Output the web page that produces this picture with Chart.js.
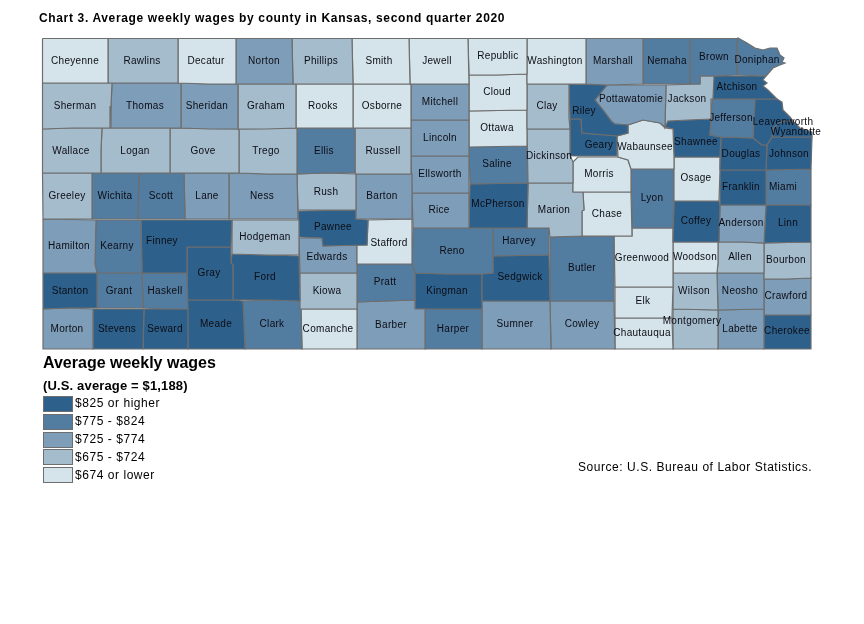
<!DOCTYPE html>
<html>
<head>
<meta charset="utf-8">
<title>Average weekly wages by county in Kansas</title>
<script src="https://cdn.jsdelivr.net/npm/chart.js@4"></script>
<style>
    html, body { margin: 0; padding: 0; background: #fff; }
    #wrap { position: relative; width: 864px; height: 624px; font-family: "Liberation Sans", Arial, sans-serif; color: #000; overflow: hidden; }
    #mapChart { position: absolute; left: 0; top: 0; }
    .txt { position: absolute; white-space: nowrap; line-height: 1; }
    .swatch { position: absolute; left: 43px; width: 30px; height: 16px; box-sizing: border-box; border: 1.5px solid #6e6e6e; }
</style>
</head>
<body>
<div id="wrap">
    <canvas id="mapChart" width="864" height="624"></canvas>
    <div class="txt" style="left:39px;top:12px;font-size:12px;font-weight:bold;letter-spacing:0.65px">Chart 3. Average weekly wages by county in Kansas, second quarter 2020</div>
    <div class="txt" style="left:43px;top:355px;font-size:16px;font-weight:bold">Average weekly wages</div>
    <div class="txt" style="left:43px;top:379px;font-size:13px;font-weight:bold;letter-spacing:0.15px">(U.S. average = $1,188)</div>
    <div class="txt" style="left:578px;top:461px;font-size:12px;letter-spacing:0.55px">Source: U.S. Bureau of Labor Statistics.</div>
    <div id="legendBox"></div>
</div>

<script>
// DATA
const legendLabels = ['$825 or higher', '$775 - $824', '$725 - $774', '$675 - $724', '$674 or lower'];
const classColors = ['#2d618c', '#527ca0', '#7d9db8', '#a5bccd', '#d4e4ea'];

const counties = [
    'Cheyenne', 'Rawlins', 'Decatur', 'Norton', 'Phillips', 'Smith', 'Jewell', 'Republic', 'Washington', 'Marshall', 'Nemaha', 'Brown', 'Doniphan',
    'Sherman', 'Thomas', 'Sheridan', 'Graham', 'Rooks', 'Osborne', 'Mitchell', 'Cloud', 'Clay', 'Riley', 'Pottawatomie', 'Jackson', 'Atchison', 'Jefferson', 'Leavenworth', 'Wyandotte',
    'Wallace', 'Logan', 'Gove', 'Trego', 'Ellis', 'Russell', 'Lincoln', 'Ottawa', 'Dickinson', 'Geary', 'Wabaunsee', 'Shawnee', 'Douglas', 'Johnson',
    'Greeley', 'Wichita', 'Scott', 'Lane', 'Ness', 'Rush', 'Barton', 'Ellsworth', 'Saline', 'Morris', 'Osage', 'Franklin', 'Miami',
    'Hamilton', 'Kearny', 'Finney', 'Hodgeman', 'Pawnee', 'Stafford', 'Rice', 'McPherson', 'Marion', 'Chase', 'Lyon', 'Coffey', 'Anderson', 'Linn',
    'Stanton', 'Grant', 'Haskell', 'Gray', 'Ford', 'Edwards', 'Kiowa', 'Pratt', 'Reno', 'Harvey', 'Sedgwick', 'Butler', 'Greenwood', 'Woodson', 'Allen', 'Bourbon',
    'Morton', 'Stevens', 'Seward', 'Meade', 'Clark', 'Comanche', 'Barber', 'Kingman', 'Harper', 'Sumner', 'Cowley', 'Elk', 'Chautauqua', 'Wilson', 'Neosho', 'Montgomery', 'Labette', 'Crawford', 'Cherokee'
];

// wage class of each county, same order as counties (index into legendLabels)
const wageClass = [
    4, 3, 4, 2, 3, 4, 4, 4, 4, 2, 1, 1, 1,
    3, 2, 2, 3, 4, 4, 2, 4, 3, 0, 2, 3, 0, 1, 0, 0,
    3, 3, 3, 3, 1, 3, 2, 4, 3, 0, 4, 0, 0, 0,
    3, 1, 1, 2, 2, 3, 2, 2, 1, 4, 4, 0, 1,
    2, 1, 0, 3, 0, 4, 2, 0, 3, 4, 1, 0, 2, 0,
    0, 1, 1, 0, 0, 2, 3, 1, 1, 1, 0, 1, 4, 4, 3, 3,
    2, 0, 0, 0, 1, 4, 2, 0, 1, 2, 2, 4, 4, 3, 2, 3, 2, 2, 0
];

// county boundaries, in map units
const countyOutlines = {
    Cheyenne: [[42.5,38.5],[108,38.5],[108,83],[42.5,83]],
    Rawlins: [[108,38.5],[178,38.5],[178,83],[108,83]],
    Decatur: [[178,38.5],[236,38.5],[236,84],[208,84],[178,83]],
    Norton: [[236,38.5],[292,38.5],[293,84],[236,84]],
    Phillips: [[292,38.5],[352,38.5],[353,84],[293,84]],
    Smith: [[352,38.5],[409,38.5],[410,84],[353,84]],
    Jewell: [[409,38.5],[468,38.5],[469,84],[410,84]],
    Republic: [[468,38.5],[527,38.5],[527,74],[497,75],[469,75]],
    Washington: [[527,38.5],[586,38.5],[586,84],[527,84]],
    Marshall: [[586,38.5],[643,38.5],[643,84],[607,85],[586,84]],
    Nemaha: [[643,38.5],[690,38.5],[690,84],[643,84]],
    Brown: [[690,38.5],[737,38.5],[737,75],[714,76],[700,76],[700,84],[690,84]],
    Doniphan: [[737,38.5],[738,38],[747,43],[755,48],[763,50],[770,48],[777,48],[780,55],[784,58],[782,62],[785,63],[780,65],[773,68],[767,75],[766,76],[737,75]],
    Sherman: [[42.5,83],[112,83],[111,106],[110,128],[72,128],[42.5,129]],
    Thomas: [[112,83],[181,83],[181,128],[110,128],[111,106]],
    Sheridan: [[181,83],[208,84],[238,84],[238,129],[209,129],[181,128]],
    Graham: [[238,84],[296,84],[296,128],[267,129],[238,129]],
    Rooks: [[296,84],[353,84],[353,128],[296,128]],
    Osborne: [[353,84],[411,84],[411,128],[353,128]],
    Mitchell: [[411,84],[469,84],[469,120],[411,120]],
    Cloud: [[469,75],[497,75],[527,74],[527,110],[469,111]],
    Clay: [[527,84],[569,84],[569,118],[570,129],[527,129]],
    Riley: [[569,84],[607,85],[595,100],[603,110],[612,122],[615,124],[628,125],[628,133],[617,136],[582,133],[581,119],[570,119]],
    Pottawatomie: [[607,85],[666,85],[665,127],[660,123],[643,120],[628,125],[615,124],[612,122],[603,110],[595,100]],
    Jackson: [[666,85],[700,84],[700,76],[714,76],[713,99],[711,99],[711,119],[688,120],[668,121],[665,127]],
    Atchison: [[714,76],[766,76],[763,80],[767,83],[763,86],[768,90],[773,95],[777,99],[755,99],[712,99],[713,85]],
    Jefferson: [[712,99],[755,99],[753,138],[721,137],[710,135],[711,119]],
    Leavenworth: [[755,99],[777,99],[782,102],[783,110],[790,117],[793,121],[782,121],[773,128],[772,137],[767,145],[762,145],[753,138]],
    Wyandotte: [[782,121],[793,121],[800,128],[812,132],[812,137],[772,137],[773,128]],
    Wallace: [[42.5,129],[72,128],[102,128],[101,150],[101,173],[42.5,173]],
    Logan: [[102,128],[170,128],[170,173],[101,173],[101,150]],
    Gove: [[170,128],[239,129],[239,173],[170,173]],
    Trego: [[239,129],[297,128],[297,174],[268,174],[239,173]],
    Ellis: [[297,128],[355,128],[355,173],[326,173],[297,174]],
    Russell: [[355,128],[411,128],[411,174],[356,174],[355,173]],
    Lincoln: [[411,120],[469,120],[469,156],[411,156]],
    Ottawa: [[469,111],[527,110],[527,146],[469,147]],
    Dickinson: [[527,129],[570,129],[570,155],[573,162],[573,183],[528,183]],
    Geary: [[570,119],[581,119],[582,133],[617,136],[617,156],[573,156],[570,155]],
    Wabaunsee: [[628,125],[643,120],[660,123],[665,128],[673,129],[674,157],[674,169],[631,169],[628,160],[618,157],[617,136],[628,133]],
    Shawnee: [[665,127],[668,121],[688,120],[711,119],[710,135],[721,137],[720,157],[674,157],[673,129]],
    Douglas: [[721,137],[753,138],[762,145],[767,145],[766,170],[720,170]],
    Johnson: [[767,145],[772,137],[812,137],[811,169],[766,170]],
    Greeley: [[42.5,173],[92,173],[92,219],[43,219]],
    Wichita: [[92,173],[139,173],[138,219],[92,219]],
    Scott: [[139,173],[184,173],[185,219],[138,219]],
    Lane: [[184,173],[229,173],[229,219],[185,219]],
    Ness: [[229,173],[268,174],[297,174],[298,219],[229,219]],
    Rush: [[297,174],[326,173],[356,174],[356,210],[298,210]],
    Barton: [[356,174],[412,174],[412,219],[356,219]],
    Ellsworth: [[411,156],[469,156],[469,193],[412,193]],
    Saline: [[469,147],[527,146],[528,183],[470,184]],
    Morris: [[573,162],[578,157],[618,157],[628,160],[631,169],[631,192],[583,192],[573,192],[573,173]],
    Osage: [[674,157],[720,157],[720,170],[719,201],[674,201]],
    Franklin: [[720,170],[766,170],[766,205],[720,205]],
    Miami: [[766,170],[811,169],[811,205],[766,205]],
    Hamilton: [[43,219],[96,220],[95,264],[97,273],[43,273]],
    Kearny: [[96,220],[141,220],[142,273],[97,273],[95,264]],
    Finney: [[141,220],[232,220],[231,247],[187,247],[187,273],[142,273]],
    Hodgeman: [[232,220],[299,220],[299,255],[266,255],[232,254]],
    Pawnee: [[298,211],[356,210],[356,219],[368,220],[367,245],[323,246],[322,238],[299,237]],
    Stafford: [[368,220],[412,219],[412,264],[357,264],[357,245],[367,245]],
    Rice: [[412,193],[469,193],[469,228],[447,228],[413,228]],
    McPherson: [[470,184],[528,183],[527,228],[469,228]],
    Marion: [[528,183],[573,183],[573,192],[583,192],[584,210],[582,211],[582,236],[550,237],[549,228],[527,228]],
    Chase: [[583,192],[631,192],[632,236],[582,236],[582,211],[584,210]],
    Lyon: [[631,169],[674,169],[674,202],[673,228],[632,228]],
    Coffey: [[674,201],[719,201],[720,205],[719,242],[673,242]],
    Anderson: [[720,205],[766,205],[764,243],[742,242],[719,242]],
    Linn: [[766,205],[811,205],[811,242],[764,243]],
    Stanton: [[43,273],[97,273],[97,308],[68,308],[43,309]],
    Grant: [[97,273],[142,273],[143,308],[97,308]],
    Haskell: [[142,273],[187,273],[188,309],[167,309],[143,308]],
    Gray: [[187,247],[231,247],[231,263],[233,265],[233,300],[187,300]],
    Ford: [[232,254],[266,255],[299,256],[300,301],[272,300],[233,300],[233,265],[231,263]],
    Edwards: [[299,238],[322,238],[323,246],[357,245],[357,273],[300,273]],
    Kiowa: [[300,273],[357,273],[357,309],[300,309]],
    Pratt: [[357,264],[412,264],[415,273],[415,300],[385,301],[357,302]],
    Reno: [[413,228],[447,228],[493,228],[493,273],[482,274],[448,274],[415,273],[412,264]],
    Harvey: [[493,228],[516,228],[549,228],[549,255],[493,256]],
    Sedgwick: [[493,256],[549,255],[550,301],[482,301],[482,274],[493,273]],
    Butler: [[550,237],[614,236],[614,301],[550,301]],
    Greenwood: [[614,236],[632,236],[632,228],[673,228],[673,287],[615,287]],
    Woodson: [[673,242],[718,242],[718,263],[717,273],[673,273]],
    Allen: [[718,242],[742,242],[764,243],[764,273],[717,273],[718,263]],
    Bourbon: [[764,243],[811,242],[811,278],[787,279],[764,279]],
    Morton: [[43,309],[68,308],[93,309],[93,349],[43,349]],
    Stevens: [[93,309],[144,309],[143,349],[93,349]],
    Seward: [[144,309],[188,309],[188,349],[143,349]],
    Meade: [[187,300],[233,300],[243,301],[245,349],[188,349]],
    Clark: [[243,301],[272,300],[300,301],[301,309],[302,349],[245,349]],
    Comanche: [[301,309],[357,309],[357,349],[302,349]],
    Barber: [[357,302],[385,301],[415,300],[415,309],[425,309],[425,349],[357,349]],
    Kingman: [[415,273],[448,274],[482,274],[482,309],[415,309]],
    Harper: [[425,309],[482,309],[482,349],[425,349]],
    Sumner: [[482,301],[550,301],[551,349],[482,349]],
    Cowley: [[550,301],[614,301],[615,349],[551,349]],
    Elk: [[615,287],[673,287],[672,318],[615,318]],
    Chautauqua: [[615,318],[672,318],[673,349],[615,349]],
    Wilson: [[673,273],[717,273],[718,310],[673,309]],
    Neosho: [[717,273],[764,273],[764,279],[764,309],[718,310]],
    Montgomery: [[673,309],[718,310],[718,349],[673,349]],
    Labette: [[718,310],[764,309],[764,315],[764,349],[718,349]],
    Crawford: [[764,279],[787,279],[811,278],[811,315],[764,315]],
    Cherokee: [[764,315],[811,315],[811,349],[764,349]]
};

// where each county name sits, in map units
const labelSpots = {
    Cheyenne: [75,61], Rawlins: [142,61], Decatur: [206,61], Norton: [264,61], Phillips: [321,61], Smith: [379,61], Jewell: [437,61], Republic: [498,56], Washington: [555,61], Marshall: [613,61], Nemaha: [667,61], Brown: [714,57], Doniphan: [757,60],
    Sherman: [75,106], Thomas: [145,106], Sheridan: [207,106], Graham: [266,106], Rooks: [323,106], Osborne: [382,106], Mitchell: [440,102], Cloud: [497,92], Clay: [547,106], Riley: [584,111], Pottawatomie: [631,99], Jackson: [687,99], Atchison: [737,87], Jefferson: [731,118], Leavenworth: [783,122], Wyandotte: [796,132],
    Wallace: [71,151], Logan: [135,151], Gove: [203,151], Trego: [266,151], Ellis: [324,151], Russell: [383,151], Lincoln: [440,138], Ottawa: [497,128], Dickinson: [549,156], Geary: [599,145], Wabaunsee: [645,147], Shawnee: [696,142], Douglas: [741,154], Johnson: [789,154],
    Greeley: [67,196], Wichita: [115,196], Scott: [161,196], Lane: [207,196], Ness: [262,196], Rush: [326,192], Barton: [382,196], Ellsworth: [440,174], Saline: [497,164], Morris: [599,174], Osage: [696,178], Franklin: [741,187], Miami: [783,187],
    Hamilton: [69,246], Kearny: [117,246], Finney: [162,241], Hodgeman: [265,237], Pawnee: [333,227], Stafford: [389,243], Rice: [439,210], McPherson: [498,204], Marion: [554,210], Chase: [607,214], Lyon: [652,198], Coffey: [696,221], Anderson: [741,223], Linn: [788,223],
    Stanton: [70,291], Grant: [119,291], Haskell: [165,291], Gray: [209,273], Ford: [265,277], Edwards: [327,257], Kiowa: [327,291], Pratt: [385,282], Reno: [452,251], Harvey: [519,241], Sedgwick: [520,277], Butler: [582,268], Greenwood: [642,258], Woodson: [695,257], Allen: [740,257], Bourbon: [786,260],
    Morton: [67,329], Stevens: [117,329], Seward: [165,329], Meade: [216,324], Clark: [272,324], Comanche: [328,329], Barber: [391,325], Kingman: [447,291], Harper: [453,329], Sumner: [515,324], Cowley: [582,324], Elk: [643,301], Chautauqua: [642,333], Wilson: [694,291], Neosho: [740,291], Montgomery: [692,321], Labette: [740,329], Crawford: [786,296], Cherokee: [787,331]
};

// fill each county from the points the scales placed (concave shapes break the built in filler)
const countyFillPlugin = {
    id: 'countyFill',
    beforeDatasetDraw(chart, args) {
        const { ctx } = chart;
        const points = args.meta.data;
        ctx.save();
        ctx.beginPath();
        points.forEach((pt, i) => {
            if (i === 0) ctx.moveTo(pt.x, pt.y);
            else ctx.lineTo(pt.x, pt.y);
        });
        ctx.closePath();
        ctx.fillStyle = chart.data.datasets[args.index].backgroundColor;
        ctx.fill();
        ctx.restore();
    }
};

// COUNTY NAMES
const countyNamesPlugin = {
    id: 'countyNames',
    afterDatasetsDraw(chart) {
        const { ctx, scales } = chart;
        ctx.save();
        ctx.font = '10px "Liberation Sans", Arial, sans-serif';
        ctx.letterSpacing = '0.3px';
        ctx.fillStyle = '#0c0c14';
        ctx.textAlign = 'center';
        ctx.textBaseline = 'middle';
        counties.forEach(name => {
            const spot = labelSpots[name];
            ctx.fillText(name, scales.x.getPixelForValue(spot[0]), scales.y.getPixelForValue(spot[1]));
        });
        ctx.restore();
    }
};

// MAP
function renderMap() {
    const datasets = counties.map((name, i) => ({
        label: name,
        data: countyOutlines[name].concat([countyOutlines[name][0]]).map(p => ({ x: p[0], y: p[1] })),
        showLine: true,
        fill: false,
        tension: 0,
        pointRadius: 0,
        pointHoverRadius: 0,
        borderWidth: 1.2,
        borderColor: '#6e6e6e',
        backgroundColor: classColors[wageClass[i]]
    }));

    new Chart(document.getElementById('mapChart').getContext('2d'), {
        type: 'scatter',
        data: { datasets: datasets },
        options: {
            responsive: false,
            animation: false,
            layout: { padding: 0 },
            plugins: {
                legend: { display: false },
                title: { display: false },
                tooltip: { enabled: false }
            },
            scales: {
                x: { type: 'linear', display: false, min: 0, max: 864 },
                y: { type: 'linear', display: false, min: 0, max: 624, reverse: true }
            }
        },
        plugins: [countyFillPlugin, countyNamesPlugin]
    });
}

function renderLegend() {
    const box = document.getElementById('legendBox');
    legendLabels.forEach((text, i) => {
        const swatch = document.createElement('div');
        swatch.className = 'swatch';
        swatch.style.top = (396 + i * 17.8) + 'px';
        swatch.style.background = classColors[i];
        box.appendChild(swatch);

        const label = document.createElement('div');
        label.className = 'txt';
        label.textContent = text;
        label.style.left = '75px';
        label.style.top = (397 + i * 18) + 'px';
        label.style.fontSize = '12px';
        label.style.letterSpacing = '0.55px';
        box.appendChild(label);
    });
}

renderMap();
renderLegend();
</script>
</body>
</html>
